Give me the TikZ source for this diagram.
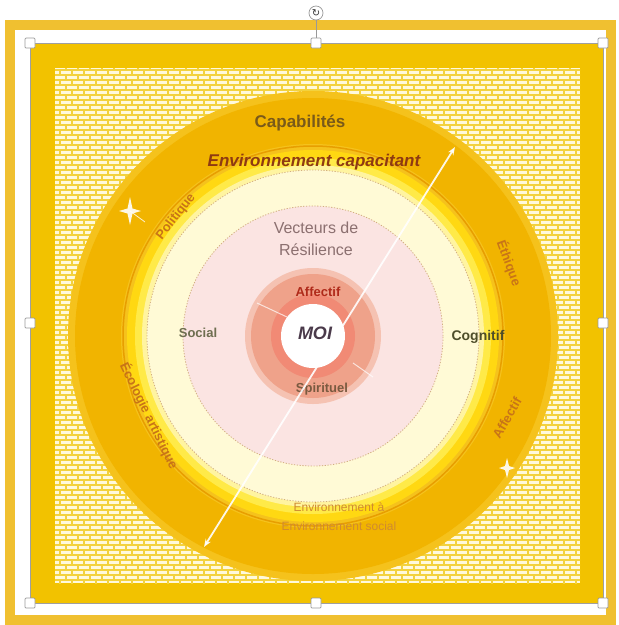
\documentclass[tikz,border=0pt]{standalone}
\usepackage{fontspec}
\setmainfont{Liberation Sans}
\newfontfamily\symfont{DejaVu Sans}
\usetikzlibrary{patterns,arrows.meta}
\definecolor{frameY}{HTML}{F0C030}
\definecolor{slideY}{HTML}{F2C200}
\definecolor{brickBg}{HTML}{FFF9DC}
\definecolor{brickLn}{HTML}{F3D23E}
\definecolor{ringO}{HTML}{F1B400}
\definecolor{ringE}{HTML}{F5C21C}
\definecolor{ringLine}{HTML}{E89E00}
\definecolor{bandY}{HTML}{FFD812}
\definecolor{bandL}{HTML}{FFEA48}
\definecolor{bandP}{HTML}{FFF4A0}
\definecolor{paleY}{HTML}{FFFAD6}
\definecolor{pinkD}{HTML}{FBE4E2}
\definecolor{salmonL}{HTML}{F5C2B2}
\definecolor{salmon}{HTML}{EFA28A}
\definecolor{tanDot}{HTML}{D2AE80}
\definecolor{capBrown}{HTML}{7A5A1A}
\definecolor{envRed}{HTML}{8E3A12}
\definecolor{vecGrey}{HTML}{8C7070}
\definecolor{affRed}{HTML}{B02A1A}
\definecolor{moiText}{HTML}{4A3A4A}
\definecolor{socText}{HTML}{6E6E50}
\definecolor{cogText}{HTML}{4E4E2A}
\definecolor{spiText}{HTML}{7A5A40}
\definecolor{arcText}{HTML}{C87418}
\definecolor{envsText}{HTML}{D08A30}
\pgfdeclarepatternformonly{mybricks}{\pgfqpoint{-1pt}{-1pt}}{\pgfqpoint{13pt}{11pt}}{\pgfqpoint{12pt}{10pt}}{%
  \pgfsetlinewidth{1.5pt}%
  \pgfpathmoveto{\pgfqpoint{0pt}{0pt}}\pgfpathlineto{\pgfqpoint{12pt}{0pt}}%
  \pgfpathmoveto{\pgfqpoint{0pt}{5pt}}\pgfpathlineto{\pgfqpoint{12pt}{5pt}}%
  \pgfpathmoveto{\pgfqpoint{0pt}{0pt}}\pgfpathlineto{\pgfqpoint{0pt}{5pt}}%
  \pgfpathmoveto{\pgfqpoint{6pt}{5pt}}\pgfpathlineto{\pgfqpoint{6pt}{10pt}}%
  \pgfusepath{stroke}}
\tikzset{
  capT/.style={font=\bfseries\fontsize{17}{17}\selectfont, text=capBrown},
  envT/.style={font=\bfseries\itshape\fontsize{17}{17}\selectfont, text=envRed},
  vecT/.style={font=\fontsize{16}{22}\selectfont, text=vecGrey, align=center},
  affT/.style={font=\bfseries\fontsize{13}{13}\selectfont, text=affRed},
  moiT/.style={font=\bfseries\itshape\fontsize{18}{18}\selectfont, text=moiText},
  socT/.style={font=\bfseries\fontsize{13}{13}\selectfont, text=socText},
  cogT/.style={font=\bfseries\fontsize{14}{14}\selectfont, text=cogText},
  spiT/.style={font=\bfseries\fontsize{13}{13}\selectfont, text=spiText},
  arcT/.style={font=\bfseries\fontsize{13}{13}\selectfont, text=arcText, inner sep=1pt},
  envsT/.style={font=\fontsize{12}{19}\selectfont, text=envsText, align=center},
  handle/.style={draw=gray!80, fill=white, minimum size=10pt, inner sep=0pt, rounded corners=1pt, line width=0.7pt},
  rothandle/.style={draw=gray!80, fill=white, circle, minimum size=14pt, inner sep=0pt, line width=0.7pt, font=\symfont\fontsize{10}{10}\selectfont, text=gray!40!black},
  dotring/.style={tanDot, line width=0.8pt, dash pattern=on 1.2pt off 1.6pt},
  sparkle/.style={fill=white, opacity=0.9}
}
\begin{document}
\begin{tikzpicture}[x=1pt,y=-1pt]
\useasboundingbox (0,0) rectangle (619,625);
\fill[white] (0,0) rectangle (619,625);
% outer frame band
\draw[frameY, line width=10pt] (10,25) rectangle (611,620);
% slide area
\fill[slideY] (30,43) rectangle (603,603);
\fill[brickBg] (55,68) rectangle (580,583);
\fill[pattern=mybricks, pattern color=brickLn] (55,68) rectangle (580,583);
% concentric rings
\coordinate (C) at (313,336);
\fill[ringE] (C) circle[radius=245pt];
\fill[ringO] (C) circle[radius=238pt];
\fill[ringE] (C) circle[radius=192pt];
\draw[ringLine, line width=1.5pt] (C) circle[radius=190pt];
\fill[bandY] (C) circle[radius=186pt];
\fill[bandL] (C) circle[radius=178pt];
\fill[bandP] (C) circle[radius=171pt];
\fill[paleY] (C) circle[radius=166pt];
\draw[dotring] (C) circle[radius=166pt];
\fill[pinkD] (C) circle[radius=130pt];
\draw[dotring] (C) circle[radius=130pt];
\fill[salmonL] (C) circle[radius=68pt];
\fill[salmon] (C) circle[radius=62pt];
\fill[salmon!85!red] (C) circle[radius=42pt];
\fill[white] (C) circle[radius=32pt];
% faint cross lines in the inner ring
\coordinate (x1) at (257,303); \coordinate (x2) at (287,317);
\coordinate (x3) at (353,363); \coordinate (x4) at (373,377);
\draw[white, opacity=0.7, line width=1pt] (x1) -- (x2);
\draw[white, opacity=0.7, line width=1pt] (x3) -- (x4);
% texts
\node[capT] (cap) at (300,123) {Capabilités};
\node[envT] (env) at (314,162) {Environnement capacitant};
\node[vecT] (vec) at (316,239) {Vecteurs de\\Résilience};
\node[affT] (aff) at (318,292) {Affectif};
\node[moiT] (moi) at (315,333) {MOI};
\node[socT] (soc) at (198,333) {Social};
\node[cogT] (cog) at (478,337) {Cognitif};
\node[spiT] (spi) at (322,389) {Spirituel};
\node[arcT, rotate=52] (pol) at (176,217) {Politique};
\node[arcT, rotate=-64] (eco) at (149,416) {Écologie artistique};
\node[arcT, rotate=-70] (eth) at (509,263) {Éthique};
\node[arcT, rotate=60] (aff2) at (507,418) {Affectif};
\node[envsT] (envs) at (339,517) {Environnement à\\Environnement social};
% diagonal white arrow
\coordinate (dTop) at (455,147);
\coordinate (dBot) at (204,547);
\draw[white, line width=1.8pt, opacity=0.9, {Stealth[length=8pt]}-{Stealth[length=8pt]}] (dBot) -- (dTop);
% sparkles
\coordinate (s1) at (130,211);
\coordinate (s2) at (507,468);
\coordinate (s1e) at (145,222);
\fill[sparkle] (s1) +(0,-14) -- +(2.5,-2.5) -- +(11,0) -- +(2.5,2.5) -- +(0,14) -- +(-2.5,2.5) -- +(-11,0) -- +(-2.5,-2.5) -- cycle;
\draw[white, line width=0.8pt, opacity=0.8] (s1) -- (s1e);
\fill[sparkle] (s2) +(0,-10) -- +(2,-2) -- +(8,0) -- +(2,2) -- +(0,10) -- +(-2,2) -- +(-8,0) -- +(-2,-2) -- cycle;
% selection frame and handles
\draw[gray!75, line width=0.8pt] (30,43) rectangle (603,603);
\node[handle] (h1) at (30,43) {};
\node[handle] (h2) at (316,43) {};
\node[handle] (h3) at (603,43) {};
\node[handle] (h4) at (30,323) {};
\node[handle] (h5) at (603,323) {};
\node[handle] (h6) at (30,603) {};
\node[handle] (h7) at (316,603) {};
\node[handle] (h8) at (603,603) {};
\node[rothandle] (rot) at (316,13) {↻};
\draw[gray!80, line width=0.8pt] (rot) -- (h2);
\end{tikzpicture}
\end{document}
